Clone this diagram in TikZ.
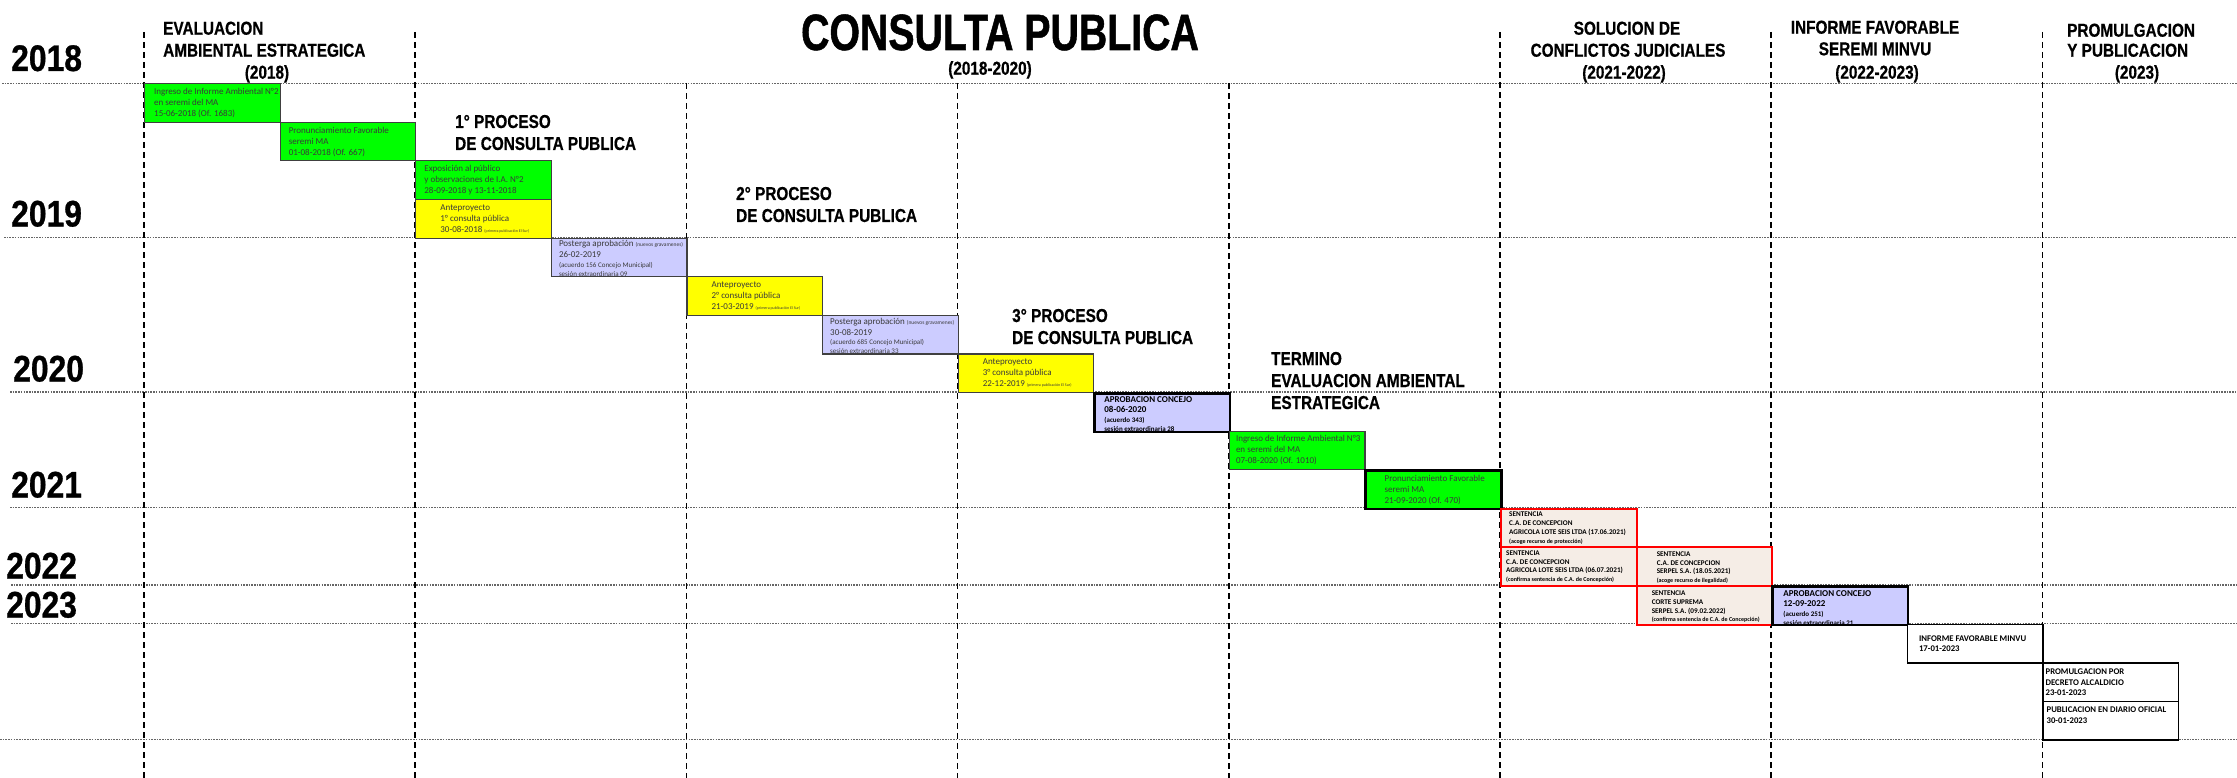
\documentclass[tikz,border=0pt]{standalone}
\usepackage{fontspec}
\setmainfont{Carlito}
\newfontfamily\hfont[FakeStretch=0.82,FakeBold=0.6]{Liberation Sans}
\newfontfamily\yfont[FakeStretch=0.86,FakeBold=0.8]{Liberation Sans}
\newfontfamily\tfont[FakeStretch=0.77,FakeBold=1]{Liberation Sans}
\newfontfamily\cfont{Carlito}
\usetikzlibrary{calc}
\definecolor{gbox}{HTML}{00FF00}
\definecolor{ybox}{HTML}{FFFF00}
\definecolor{lbox}{HTML}{CCCCFF}
\definecolor{sbox}{HTML}{F5EDE6}
\definecolor{rline}{HTML}{FF0000}
\definecolor{tgray}{HTML}{3A3A3A}
\begin{document}
\begin{tikzpicture}[x=1pt,y=-1pt,
  cell/.style={draw=black!75, line width=1.1pt, minimum width=135.6pt, minimum height=38.6pt, inner sep=0pt, anchor=north west},
  gcell/.style={cell, fill=gbox},
  ycell/.style={cell, fill=ybox},
  lcell/.style={cell, fill=lbox},
  kcell/.style={draw=black, line width=2.6pt},
  scell/.style={cell, fill=sbox, draw=rline, line width=2pt},
  wcell/.style={cell, fill=white, draw=black, line width=1.4pt},
  txt/.style={anchor=west, inner sep=0pt, align=left, text=tgray, font=\cfont\fontsize{9}{11}\selectfont},
  btxt/.style={anchor=west, inner sep=0pt, align=left, text=black, font=\cfont\bfseries\fontsize{9}{10}\selectfont},
  stxt/.style={anchor=west, inner sep=0pt, align=left, text=black, font=\cfont\bfseries\fontsize{7.2}{8.8}\selectfont},
  hdr/.style={inner sep=0pt, font=\hfont\bfseries\fontsize{18.7}{22}\selectfont},
  yr/.style={inner sep=0pt, anchor=base west, font=\yfont\bfseries\fontsize{37}{40}\selectfont},
  vline/.style={dash pattern=on 6pt off 4pt, line width=1.6pt},
  hline/.style={dash pattern=on 1.6pt off 1.1pt, line width=1.1pt, black!60}
]
\useasboundingbox (0,0) rectangle (2237,778);
\fill[white] (0,0) rectangle (2237,778);

% horizontal year lines
\draw[hline] (2,83.2) -- (2237,83.2);
\draw[hline] (4,237.6) -- (2237,237.6);
\draw[hline] (10,392) -- (2237,392);
\draw[hline] (10,507.8) -- (2237,507.8);
\draw[hline] (11,585) -- (2237,585);
\draw[hline] (11,623.6) -- (2237,623.6);
\draw[hline] (0,739.4) -- (2237,739.4);

% vertical phase lines
\draw[vline] (144,32) -- (144,778);
\draw[vline] (415.2,32) -- (415.2,778);
\draw[vline] (686.4,83.2) -- (686.4,778);
\draw[vline] (957.6,83.2) -- (957.6,778);
\draw[vline] (1228.8,83.2) -- (1228.8,778);
\draw[vline] (1500,32) -- (1500,778);
\draw[vline] (1771.2,32) -- (1771.2,778);
\draw[vline] (2042.4,32) -- (2042.4,778);

% years
\node[yr] (y18) at (11,71) {2018};
\node[yr] (y19) at (11,226.5) {2019};
\node[yr] (y20) at (13,381.5) {2020};
\node[yr] (y21) at (11,497.5) {2021};
\node[yr] (y22) at (6,578.5) {2022};
\node[yr] (y23) at (6,617.5) {2023};

% headers
\node[hdr, anchor=base west] (h1a) at (163,34.7) {EVALUACION};
\node[hdr, anchor=base west] (h1b) at (163,56.7) {AMBIENTAL ESTRATEGICA};
\node[hdr, anchor=base] (h1c) at (267,78.7) {(2018)};
\node[anchor=base, inner sep=0pt, font=\tfont\bfseries\fontsize{51}{56}\selectfont] (title) at (1000,50) {CONSULTA PUBLICA};
\node[hdr, anchor=base] (title2) at (990,74.7) {(2018-2020)};
\node[hdr, anchor=base west] (p1a) at (455,128) {1° PROCESO};
\node[hdr, anchor=base west] (p1b) at (455,150) {DE CONSULTA PUBLICA};
\node[hdr, anchor=base west] (p2a) at (736,200) {2° PROCESO};
\node[hdr, anchor=base west] (p2b) at (736,222) {DE CONSULTA PUBLICA};
\node[hdr, anchor=base west] (p3a) at (1012,322) {3° PROCESO};
\node[hdr, anchor=base west] (p3b) at (1012,344) {DE CONSULTA PUBLICA};
\node[hdr, anchor=base west] (tea) at (1271,365) {TERMINO};
\node[hdr, anchor=base west] (teb) at (1271,387) {EVALUACION AMBIENTAL};
\node[hdr, anchor=base west] (tec) at (1271,409) {ESTRATEGICA};
\node[hdr, anchor=base] (sja) at (1627,34.7) {SOLUCION DE};
\node[hdr, anchor=base] (sjb) at (1628,56.7) {CONFLICTOS JUDICIALES};
\node[hdr, anchor=base] (sjc) at (1624,78.7) {(2021-2022)};
\node[hdr, anchor=base] (ifa) at (1875,33.7) {INFORME FAVORABLE};
\node[hdr, anchor=base] (ifb) at (1875,55.3) {SEREMI MINVU};
\node[hdr, anchor=base] (ifc) at (1877,78.7) {(2022-2023)};
\node[hdr, anchor=base west] (ppa) at (2067,36.7) {PROMULGACION};
\node[hdr, anchor=base west] (ppb) at (2067,56.7) {Y PUBLICACION};
\node[hdr, anchor=base] (ppc) at (2137,78.7) {(2023)};

% boxes
\node[gcell] (b1) at (144,83.2) {};
\node[gcell] (b2) at (279.6,121.8) {};
\node[gcell] (b3) at (415.2,160.4) {};
\node[ycell] (b4) at (415.2,199) {};
\node[lcell] (b5) at (550.8,237.6) {};
\node[ycell] (b6) at (686.4,276.2) {};
\node[lcell] (b7) at (822,314.8) {};
\node[ycell] (b8) at (957.6,353.4) {};
\node[lcell, kcell] (b9) at (1093.2,392) {};
\node[gcell] (b10) at (1228.8,430.6) {};
\node[gcell, kcell] (b11) at (1364.4,469.2) {};
\node[scell] (b12) at (1500,507.8) {};
\node[scell] (b13) at (1500,546.4) {};
\node[scell] (b14) at (1635.6,546.4) {};
\node[scell] (b15) at (1635.6,585) {};
\node[lcell, kcell] (b16) at (1771.2,585) {};
\node[wcell] (b17) at (1906.8,623.6) {};
\node[wcell] (b18) at (2042.4,662.2) {};
\node[wcell] (b19) at (2042.4,700.8) {};

% box texts
\node[txt] (t1) at ([xshift=10pt]b1.west) {Ingreso de Informe Ambiental N°2\\en seremi del MA\\15-06-2018 (Of. 1683)};
\node[txt] (t2) at ([xshift=9pt]b2.west) {Pronunciamiento Favorable\\seremi MA\\01-08-2018 (Of. 667)};
\node[txt] (t3) at ([xshift=9pt]b3.west) {Exposición al público\\y observaciones de I.A. N°2\\28-09-2018 y 13-11-2018};
\node[txt] (t4) at ([xshift=25pt]b4.west) {Anteproyecto\\1° consulta pública\\30-08-2018 {\fontsize{4}{4}\selectfont (primera publicación El Sur)}};
\node[txt] (t5) at ([xshift=8pt,yshift=-1pt]b5.west) {Posterga aprobación {\fontsize{5.5}{6}\selectfont (nuevos gravamenes)}\\26-02-2019\\[-1.5pt]{\fontsize{7}{8}\selectfont (acuerdo 156 Concejo Municipal)}\\[-2pt]{\fontsize{7}{8}\selectfont sesión extraordinaria 09}};
\node[txt] (t6) at ([xshift=25pt]b6.west) {Anteproyecto\\2° consulta pública\\21-03-2019 {\fontsize{4}{4}\selectfont (primera publicación El Sur)}};
\node[txt] (t7) at ([xshift=8pt,yshift=-1pt]b7.west) {Posterga aprobación {\fontsize{5.5}{6}\selectfont (nuevos gravamenes)}\\30-08-2019\\[-1.5pt]{\fontsize{7}{8}\selectfont (acuerdo 685 Concejo Municipal)}\\[-2pt]{\fontsize{7}{8}\selectfont sesión extraordinaria 33}};
\node[txt] (t8) at ([xshift=25pt]b8.west) {Anteproyecto\\3° consulta pública\\22-12-2019 {\fontsize{4}{4}\selectfont (primera publicación El Sur)}};
\node[btxt] (t9) at ([xshift=11pt,yshift=-1.5pt]b9.west) {APROBACION CONCEJO\\08-06-2020\\{\fontsize{7}{8}\selectfont (acuerdo 343)}\\[-1pt]{\fontsize{7}{8}\selectfont sesión extraordinaria 28}};
\node[txt] (t10) at ([xshift=7pt]b10.west) {Ingreso de Informe Ambiental N°3\\en seremi del MA\\07-08-2020 (Of. 1010)};
\node[txt] (t11) at ([xshift=20pt]b11.west) {Pronunciamiento Favorable\\seremi MA\\21-09-2020 (Of. 470)};
\node[stxt] (t12) at ([xshift=9pt]b12.west) {SENTENCIA\\C.A. DE CONCEPCION\\AGRICOLA LOTE SEIS LTDA (17.06.2021)\\{\fontsize{6}{7}\selectfont (acoge recurso de protección)}};
\node[stxt] (t13) at ([xshift=6pt]b13.west) {SENTENCIA\\C.A. DE CONCEPCION\\AGRICOLA LOTE SEIS LTDA (06.07.2021)\\{\fontsize{6}{7}\selectfont (confirma sentencia de C.A. de Concepción)}};
\node[stxt] (t14) at ([xshift=21pt,yshift=-1pt]b14.west) {SENTENCIA\\C.A. DE CONCEPCION\\SERPEL S.A. (18.05.2021)\\{\fontsize{6}{7}\selectfont (acoge recurso de ilegalidad)}};
\node[stxt] (t15) at ([xshift=16pt,yshift=-1.5pt]b15.west) {SENTENCIA\\CORTE SUPREMA\\SERPEL S.A. (09.02.2022)\\{\fontsize{6}{7}\selectfont (confirma sentencia de C.A. de Concepción)}};
\node[btxt] (t16) at ([xshift=12pt,yshift=-2pt]b16.west) {APROBACION CONCEJO\\12-09-2022\\{\fontsize{7}{8}\selectfont (acuerdo 251)}\\[-1pt]{\fontsize{7}{8}\selectfont sesión extraordinaria 21}};
\node[btxt, font=\cfont\bfseries\fontsize{8.7}{10.5}\selectfont] (t17) at ([xshift=12pt]b17.west) {INFORME FAVORABLE MINVU\\17-01-2023};
\node[btxt, font=\cfont\bfseries\fontsize{8.7}{10.5}\selectfont] (t18) at ([xshift=3pt]b18.west) {PROMULGACION POR\\DECRETO ALCALDICIO\\23-01-2023};
\node[btxt, font=\cfont\bfseries\fontsize{8.7}{10.5}\selectfont] (t19) at ([xshift=4pt,yshift=5.5pt]b19.west) {PUBLICACION EN DIARIO OFICIAL\\30-01-2023};
\end{tikzpicture}
\end{document}
